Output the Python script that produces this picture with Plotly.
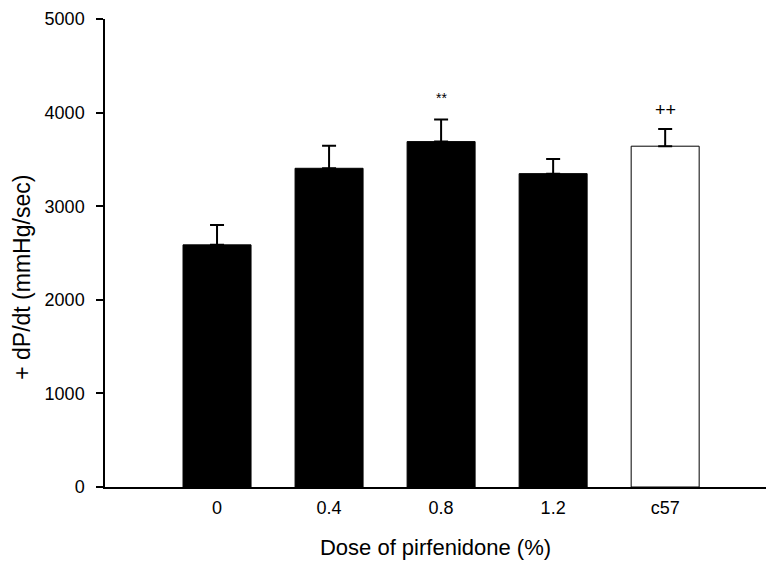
import plotly.graph_objects as go

categories = ["0", "0.4", "0.8", "1.2", "c57"]
means = [2587, 3405, 3690, 3348, 3641]
errors = [213, 242, 235, 157, 185]
bar_colors = ["black", "black", "black", "black", "white"]
marks = ["", "", "**", "", "++"]

fig = go.Figure()
fig.add_trace(go.Bar(
    x=categories, y=means,
    width=0.607,
    marker=dict(color=bar_colors, line=dict(color="black", width=1)),
    error_y=dict(type="data", symmetric=False, array=errors,
                 arrayminus=[0] * len(errors), color="black",
                 thickness=2, width=7),
    showlegend=False,
))

for i, (m, e, t) in enumerate(zip(means, errors, marks)):
    if t:
        fig.add_annotation(x=i, y=m + e, xref="x", yref="y", text=t,
                           showarrow=False, yanchor="bottom",
                           yshift=12 if t == "**" else 7,
                           font=dict(size=14 if t == "**" else 18, color="black"))

# y-axis title
fig.add_annotation(xref="paper", yref="paper", x=0, y=0.447, xshift=-83,
                   text="+ dP/dt (mmHg/sec)", textangle=-90, showarrow=False,
                   xanchor="center", yanchor="middle",
                   font=dict(size=23, color="black"))

fig.update_layout(
    width=767, height=562,
    margin=dict(l=105, r=1, t=19, b=75),
    paper_bgcolor="white", plot_bgcolor="white",
    font=dict(family="Arial, Liberation Sans, sans-serif", color="black", size=18),
    xaxis=dict(
        range=[-1, 4.9], showline=True, linecolor="black", linewidth=1.5,
        ticks="", showgrid=False, zeroline=False,
        tickfont=dict(size=18), ticklabelstandoff=4,
        title=dict(text="Dose of pirfenidone (%)", font=dict(size=22), standoff=22),
    ),
    yaxis=dict(
        range=[0, 5000], dtick=1000, showline=True, linecolor="black",
        linewidth=1.5, ticks="outside", ticklen=7, tickwidth=1.5,
        tickcolor="black", showgrid=False, zeroline=False,
        tickfont=dict(size=18), ticklabelstandoff=8,
    ),
)

fig.write_html("out.html")
